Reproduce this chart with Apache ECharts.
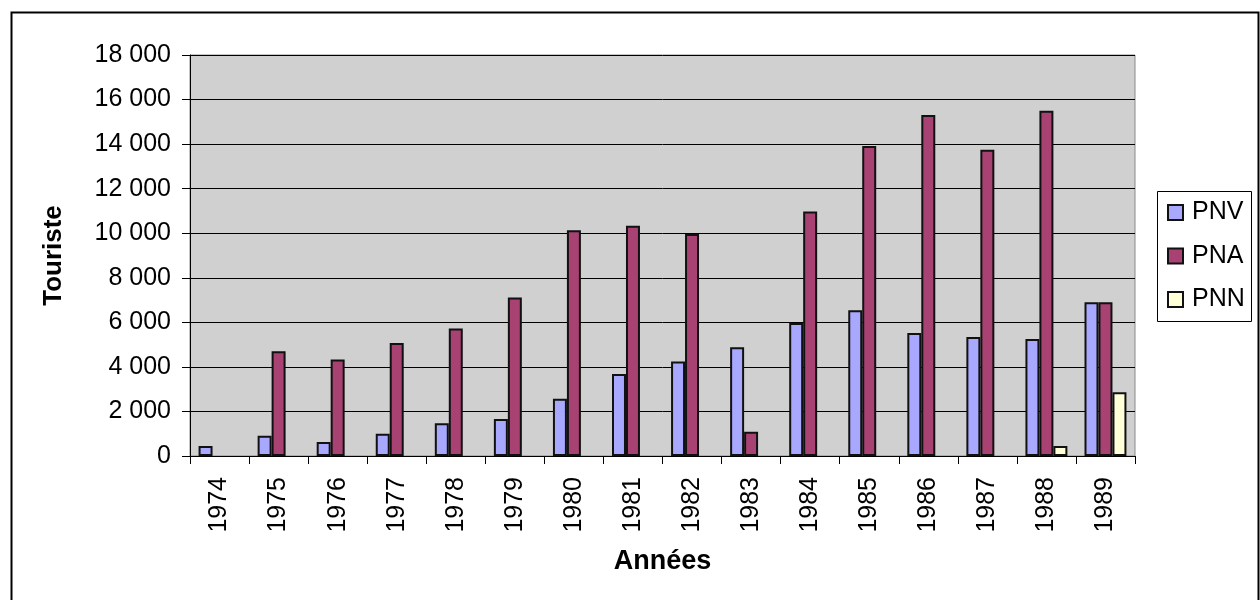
<!DOCTYPE html>
<html>
<head>
<meta charset="utf-8">
<script src="https://cdn.jsdelivr.net/npm/echarts@6/dist/echarts.min.js"></script>
<style>
html,body{margin:0;padding:0;background:#fff;}
#c{width:1260px;height:600px;}
</style>
</head>
<body>
<div id="c"></div>
<script>
const years = ['1974','1975','1976','1977','1978','1979','1980','1981','1982','1983','1984','1985','1986','1987','1988','1989'];
const pnv = [450, 910, 630, 1000, 1470, 1660, 2570, 3680, 4240, 4880, 5970, 6540, 5520, 5340, 5250, 6900];
const pna = [null, 4700, 4330, 5070, 5720, 7110, 10130, 10330, 9970, 1090, 10970, 13920, 15310, 13750, 15500, 6900];
const pnn = [null, null, null, null, null, null, null, null, null, null, null, null, null, null, 450, 2860];
const yTicks = { min: 0, max: 18000, interval: 2000 };

const font = 'Liberation Sans, Arial, sans-serif';
const chart = echarts.init(document.getElementById('c'), null, {renderer: 'canvas'});
function fmt(v){ return String(v).replace(/\B(?=(\d{3})+(?!\d))/g, ' '); }
const barStyle = (c) => ({ color: c, borderColor: '#111', borderWidth: 2 });
chart.setOption({
  animation: false,
  backgroundColor: '#fff',
  graphic: [{
    type: 'rect', left: 9, top: 10, shape: { x: 0, y: 0, width: 1247, height: 600 },
    style: { fill: 'none', stroke: '#000', lineWidth: 2 }, silent: true, z: -1
  }, {
    type: 'rect', left: 1157, top: 191, shape: { x: 0, y: 0, width: 94, height: 130 },
    style: { fill: '#fff', stroke: '#000', lineWidth: 1 }, silent: true, z: -1
  }],
  grid: {
    left: 190, right: 125, top: 55, bottom: 144,
    show: true, backgroundColor: '#D0D0D0', borderColor: '#8a8a8a', borderWidth: 1
  },
  legend: {
    orient: 'vertical', left: 1167, top: 200,
    itemWidth: 15, itemHeight: 15, itemGap: 18.5,
    padding: 0,
    icon: 'rect',
    textStyle: { fontFamily: font, fontSize: 25, color: '#000', padding: [0, 0, 0, 4] },
    data: ['PNV', 'PNA', 'PNN']
  },
  xAxis: {
    type: 'category', data: years,
    name: 'Années', nameLocation: 'middle', nameGap: 92,
    nameTextStyle: { fontFamily: font, fontSize: 27, fontWeight: 'bold', color: '#000' },
    axisLine: { lineStyle: { color: '#000', width: 1 } },
    axisTick: { show: true, length: 8, lineStyle: { color: '#000' } },
    axisLabel: { rotate: 90, margin: 21, fontFamily: font, fontSize: 25, color: '#000' }
  },
  yAxis: {
    type: 'value', min: yTicks.min, max: yTicks.max, interval: yTicks.interval,
    name: 'Touriste', nameLocation: 'middle', nameGap: 123,
    nameTextStyle: { fontFamily: font, fontSize: 26, fontWeight: 'bold', color: '#000' },
    axisLine: { show: true, lineStyle: { color: '#000', width: 1 } },
    axisTick: { show: true, length: 8, lineStyle: { color: '#000' } },
    axisLabel: { margin: 19, fontFamily: font, fontSize: 25, color: '#000', formatter: fmt },
    splitLine: { show: true, lineStyle: { color: '#000', width: 1 } }
  },
  series: [
    { name: 'PNV', type: 'bar', data: pnv, barGap: '0%', barCategoryGap: '29%', itemStyle: barStyle('#A8A8FF') },
    { name: 'PNA', type: 'bar', data: pna, barGap: '0%', barCategoryGap: '29%', itemStyle: barStyle('#A84272') },
    { name: 'PNN', type: 'bar', data: pnn, barGap: '0%', barCategoryGap: '29%', itemStyle: barStyle('#FFFFD8') }
  ]
});
</script>
</body>
</html>
